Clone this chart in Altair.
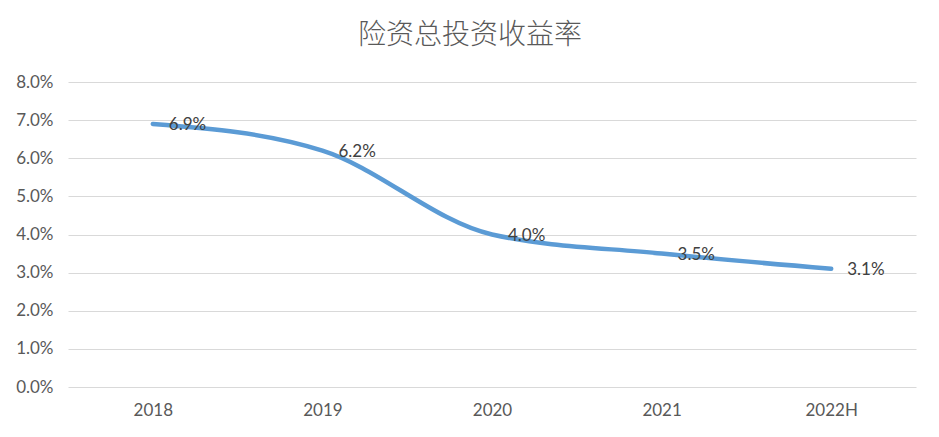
import altair as alt
import pandas as pd

years = ["2018", "2019", "2020", "2021", "2022H"]
rates = [0.069, 0.062, 0.040, 0.035, 0.031]

df = pd.DataFrame({"year": years, "rate": rates})

base = alt.Chart(df).encode(
    x=alt.X("year:O", sort=years, title=None,
            scale=alt.Scale(type="point", padding=0.5),
            axis=alt.Axis(labelAngle=0, ticks=False, domain=False, grid=False,
                          labelFont="Lato", labelFontSize=17, labelColor="#595959",
                          labelPadding=15)),
    y=alt.Y("rate:Q", title=None,
            scale=alt.Scale(domain=[0, 0.08], nice=False),
            axis=alt.Axis(format=".1%", values=[i / 100 for i in range(9)],
                          ticks=False, domain=False, gridColor="#D9D9D9", gridWidth=1,
                          labelFont="Lato", labelFontSize=17, labelColor="#595959",
                          labelPadding=15)),
)

line = base.mark_line(interpolate="monotone", color="#5B9BD5", strokeWidth=4.5,
                      strokeCap="round")
labels = base.mark_text(align="left", baseline="middle", dx=16, dy=1,
                        font="Lato", fontSize=17, color="#404040").encode(
    text=alt.Text("rate:Q", format=".1%"))

chart = (line + labels).properties(
    width=848, height=305,
    autosize=alt.AutoSizeParams(type="none"),
    padding={"left": 60, "top": 74, "right": 10, "bottom": 40},
    title=alt.TitleParams("险资总投资收益率", font="Noto Sans CJK SC", fontSize=28,
                          fontWeight=300, color="#595959", anchor="middle",
                          dx=-22, offset=23),
).configure_view(stroke=None)

chart.save("out.html", embed_options={"renderer": "svg", "actions": False})
